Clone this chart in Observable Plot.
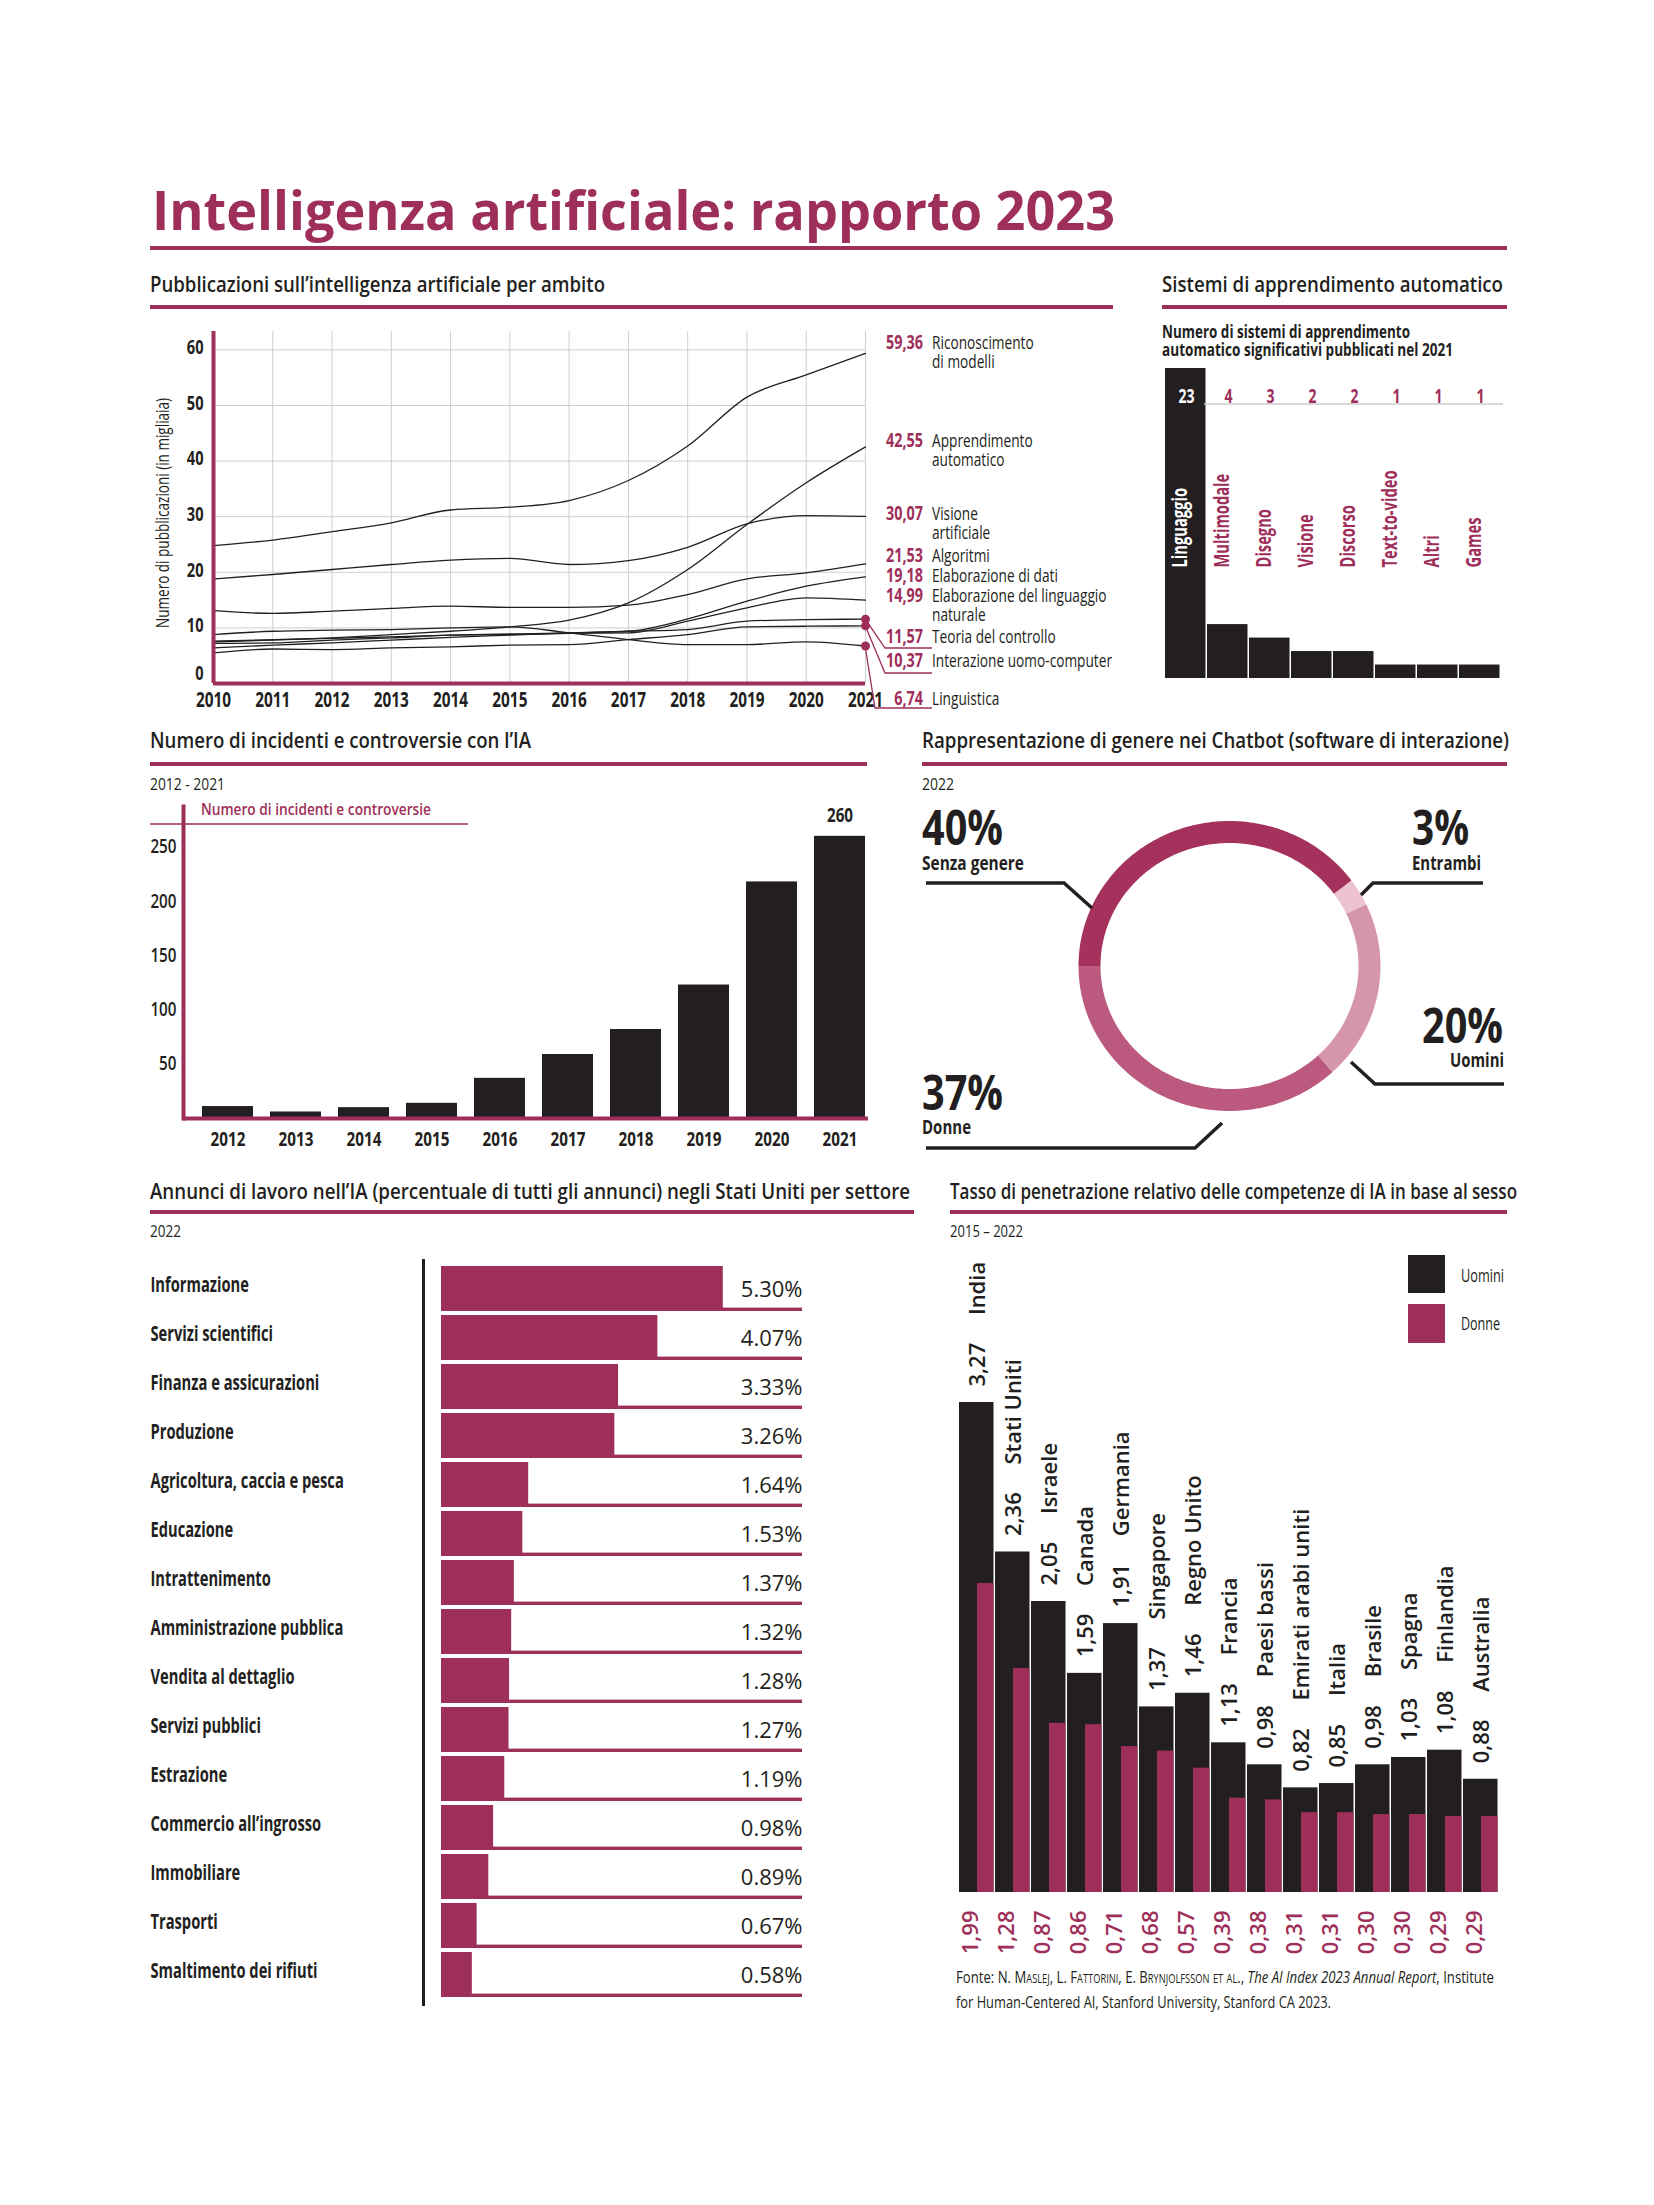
<!DOCTYPE html>
<html><head><meta charset="utf-8">
<script src="https://cdn.jsdelivr.net/npm/d3@7"></script>
<script src="https://cdn.jsdelivr.net/npm/@observablehq/plot@0.6"></script>
<style>
html,body{margin:0;padding:0;background:#fff}
#page{position:relative;width:1654px;height:2205px;overflow:hidden;background:#fff}
#page text{white-space:pre}
</style></head><body>
<div id="page"></div>
<script>
// ================= DATA =================
// 1. Pubblicazioni sull'IA per ambito (migliaia)
const pubYears = [2010, 2011, 2012, 2013, 2014, 2015, 2016, 2017, 2018, 2019, 2020, 2021];
const pubSeries = ["Riconoscimento di modelli", "Apprendimento automatico", "Visione artificiale", "Algoritmi", "Elaborazione di dati", "Elaborazione del linguaggio naturale", "Teoria del controllo", "Interazione uomo-computer", "Linguistica"];
const pubLabelLines = [["Riconoscimento", "di modelli"], ["Apprendimento", "automatico"], ["Visione", "artificiale"], ["Algoritmi"], ["Elaborazione di dati"], ["Elaborazione del linguaggio", "naturale"], ["Teoria del controllo"], ["Interazione uomo-computer"], ["Linguistica"]];
const pubRiconoscimento = [24.8, 25.8, 27.3, 28.9, 31.2, 31.7, 32.9, 36.5, 42.7, 51.5, 55.5, 59.36];
const pubApprendimento  = [7.5, 7.8, 8.2, 8.8, 9.4, 10.2, 11.4, 14.5, 20.5, 28.6, 36.1, 42.55];
const pubVisione        = [18.8, 19.6, 20.5, 21.4, 22.2, 22.5, 21.4, 22.1, 24.5, 28.7, 30.2, 30.07];
const pubAlgoritmi      = [13.1, 12.6, 13.0, 13.5, 13.9, 13.7, 13.7, 14.1, 16.0, 18.8, 19.9, 21.53];
const pubDati           = [7.6, 7.9, 8.1, 8.4, 8.7, 8.9, 9.1, 9.4, 11.6, 14.8, 17.5, 19.18];
const pubLinguaggio     = [7.2, 7.3, 7.8, 8.2, 8.7, 8.8, 9.0, 9.1, 11.2, 13.6, 15.4, 14.99];
const pubControllo      = [6.4, 6.9, 7.3, 7.8, 8.3, 8.7, 9.1, 9.4, 9.7, 11.2, 11.5, 11.57];
const pubInterazione    = [5.5, 6.2, 6.1, 6.4, 6.6, 6.9, 7.0, 7.9, 8.8, 10.2, 10.3, 10.37];
const pubLinguistica    = [8.8, 9.4, 9.6, 9.7, 10.0, 10.2, 9.1, 7.9, 7.0, 7.0, 7.5, 6.74];
const pubDotted = ["Teoria del controllo", "Interazione uomo-computer", "Linguistica"];
const pubYTicks = [0, 10, 20, 30, 40, 50, 60];

// 2. Sistemi di apprendimento automatico 2021
const mlCategories = ["Linguaggio", "Multimodale", "Disegno", "Visione", "Discorso", "Text-to-video", "Altri", "Games"];
const mlCounts = [23, 4, 3, 2, 2, 1, 1, 1];

// 3. Incidenti e controversie
const incYears = [2012, 2013, 2014, 2015, 2016, 2017, 2018, 2019, 2020, 2021];
const incCounts = [11, 6, 10, 14, 37, 59, 82, 123, 218, 260];
const incYTicks = [50, 100, 150, 200, 250];

// 4. Genere nei chatbot
const chatLabels = ["Senza genere", "Entrambi", "Uomini", "Donne"];
const chatPct = [40, 3, 20, 37];
const chatColors = ["#a5315d", "#ecc3cf", "#d596ab", "#bb597e"];

// 5. Annunci di lavoro per settore (%)
const jobSectors = ["Informazione", "Servizi scientifici", "Finanza e assicurazioni", "Produzione", "Agricoltura, caccia e pesca", "Educazione", "Intrattenimento", "Amministrazione pubblica", "Vendita al dettaglio", "Servizi pubblici", "Estrazione", "Commercio all’ingrosso", "Immobiliare", "Trasporti", "Smaltimento dei rifiuti"];
const jobPct = [5.30, 4.07, 3.33, 3.26, 1.64, 1.53, 1.37, 1.32, 1.28, 1.27, 1.19, 0.98, 0.89, 0.67, 0.58];

// 6. Penetrazione competenze IA per sesso
const genCountries = ["India", "Stati Uniti", "Israele", "Canada", "Germania", "Singapore", "Regno Unito", "Francia", "Paesi bassi", "Emirati arabi uniti", "Italia", "Brasile", "Spagna", "Finlandia", "Australia"];
const genMen   = [3.27, 2.36, 2.05, 1.59, 1.91, 1.37, 1.46, 1.13, 0.98, 0.82, 0.85, 0.98, 1.03, 1.08, 0.88];
const genWomen = [1.99, 1.28, 0.87, 0.86, 0.71, 0.68, 0.57, 0.39, 0.38, 0.31, 0.31, 0.30, 0.30, 0.29, 0.29];

// ================= STYLE =================
const CRIMSON = "#9e2f5a", INK = "#231f20", GRID = "#cfcfcf";
const FONT = "'Open Sans', 'Noto Sans', sans-serif";
const itNum = v => v.toFixed(2).replace(".", ",");
const page = document.getElementById("page");
const baseStyle = {fontFamily: FONT, background: "transparent", overflow: "visible"};

function place(svg, left, top) {
  svg.style.position = "absolute";
  svg.style.left = left + "px";
  svg.style.top = top + "px";
  svg.style.maxWidth = "none";
  svg.style.background = "transparent";
  page.appendChild(svg);
  return svg;
}
function condense(nodes, f) {
  nodes.forEach(t => {
    const L = t.getComputedTextLength();
    if (L > 0) { t.setAttribute("textLength", (L * f).toFixed(1)); t.setAttribute("lengthAdjust", "spacingAndGlyphs"); }
  });
}

// ================= CHART 1: linee =================
const pubValues = [pubRiconoscimento, pubApprendimento, pubVisione, pubAlgoritmi, pubDati, pubLinguaggio, pubControllo, pubInterazione, pubLinguistica];
const pubTable = pubSeries.flatMap((s, i) => pubYears.map((yr, j) => ({series: s, year: yr, value: pubValues[i][j]})));
const L1 = {left: 140, top: 320};
const chartL = Plot.plot({
  width: 740, height: 410, marginLeft: 73, marginRight: 15, marginTop: 11, marginBottom: 47,
  x: {domain: [2010, 2021]}, y: {domain: [0, 63.3]},
  style: baseStyle,
  marks: [
    Plot.gridX(pubYears, {stroke: GRID, strokeOpacity: 1, strokeWidth: 1}),
    Plot.gridY(pubYTicks.slice(1), {stroke: GRID, strokeOpacity: 1, strokeWidth: 1}),
    Plot.lineY(pubTable, {x: "year", y: "value", z: "series", stroke: INK, strokeWidth: 1.3, curve: "monotone-x"}),
    Plot.ruleX([2010], {stroke: CRIMSON, strokeWidth: 4}),
    Plot.ruleY([0], {stroke: CRIMSON, strokeWidth: 4}),
    Plot.dot(pubTable.filter(d => d.year === 2021 && pubDotted.includes(d.series)), {x: "year", y: "value", r: 4.5, fill: CRIMSON}),
    Plot.axisY({ticks: pubYTicks.slice(1), tickSize: 0, tickPadding: 10, dy: -2, fontSize: 20, fontWeight: 700, fill: INK, label: null}),
    Plot.axisY({ticks: pubYTicks.slice(0, 1), tickSize: 0, tickPadding: 10, dy: -10, fontSize: 20, fontWeight: 700, fill: INK, label: null}),
    Plot.axisX({ticks: pubYears, tickFormat: d => String(d), tickSize: 0, tickPadding: 9, fontSize: 21, fontWeight: 700, fill: INK, label: null})
  ]
});
place(chartL, L1.left, L1.top);

// ================= CHART 2: sistemi ML =================
const mlTable = mlCategories.map((c, i) => ({cat: c, n: mlCounts[i]}));
const chartM = Plot.plot({
  width: 370, height: 330, marginLeft: 12, marginRight: 17, marginTop: 8, marginBottom: 12,
  x: {domain: mlCategories, padding: 0, axis: null}, y: {domain: [0, 23], axis: null},
  style: baseStyle,
  marks: [
    Plot.barY(mlTable, {x: "cat", y: "n", fill: INK, insetRight: 1.5}),
    Plot.text(mlTable.slice(0, 1), {x: "cat", text: d => String(d.n), frameAnchor: "top", dy: 20, fill: "white", fontSize: 20, fontWeight: 700}),
    Plot.text(mlTable.slice(1), {x: "cat", text: d => String(d.n), frameAnchor: "top", dy: 20, fill: CRIMSON, fontSize: 20, fontWeight: 700}),
    Plot.text(mlTable.slice(0, 1), {x: "cat", text: "cat", frameAnchor: "bottom", dy: -111, rotate: -90, textAnchor: "start", fill: "white", fontSize: 21, fontWeight: 700}),
    Plot.text(mlTable.slice(1), {x: "cat", text: "cat", frameAnchor: "bottom", dy: -111, rotate: -90, textAnchor: "start", fill: CRIMSON, fontSize: 21, fontWeight: 700})
  ]
});
place(chartM, 1150, 360);

// ================= CHART 3: incidenti =================
const incTable = incYears.map((y, i) => ({year: y, n: incCounts[i]}));
const chartI = Plot.plot({
  width: 745, height: 380, marginLeft: 43, marginRight: 17, marginTop: 16, marginBottom: 52,
  x: {domain: incYears, paddingInner: 0.25, paddingOuter: 0, insetLeft: 18.5, insetRight: 2.5},
  y: {domain: [0, 287.5]},
  style: baseStyle,
  marks: [
    Plot.barY(incTable, {x: "year", y: "n", fill: INK}),
    Plot.ruleY([0], {stroke: CRIMSON, strokeWidth: 4}),
    Plot.frame({anchor: "left", stroke: CRIMSON, strokeWidth: 4}),
    Plot.text(incTable.slice(-1), {x: "year", y: "n", text: d => String(d.n), dy: -20, fontSize: 19, fontWeight: 700, fill: INK}),
    Plot.axisY({ticks: incYTicks, tickSize: 0, tickPadding: 7, fontSize: 19, fontWeight: 600, fill: INK, label: null}),
    Plot.axisX({tickFormat: d => String(d), tickSize: 0, tickPadding: 14, fontSize: 19, fontWeight: 700, fill: INK, label: null})
  ]
});
place(chartI, 140, 790);

// ================= CHART 4: ciambella =================
const chatTable = chatLabels.map((l, i) => ({label: l, pct: chatPct[i]}));
const pie = d3.pie().value(d => d.pct).sort(null).startAngle(-Math.PI / 2).endAngle(3 * Math.PI / 2);
const ringPts = pie(chatTable).flatMap(a => {
  const n = Math.max(6, Math.ceil((a.endAngle - a.startAngle) / (Math.PI / 180)));
  return d3.range(n + 1).map(k => {
    const t = a.startAngle + (a.endAngle - a.startAngle) * k / n;
    return {label: a.data.label, x: Math.sin(t), y: Math.cos(t)};
  });
});
const chartD = Plot.plot({
  width: 310, height: 310, marginLeft: 19, marginRight: 11, marginTop: 21.5, marginBottom: 20.5,
  x: {domain: [-1, 1], axis: null}, y: {domain: [-1, 1], axis: null},
  color: {domain: chatLabels, range: chatColors},
  style: baseStyle,
  marks: [
    Plot.line(ringPts, {x: "x", y: "y", z: "label", stroke: "label", strokeWidth: 22, strokeLinecap: "butt", curve: "linear"})
  ]
});
place(chartD, 1070, 810);

// ================= CHART 5: annunci di lavoro =================
const jobTable = jobSectors.map((s, i) => ({sector: s, pct: jobPct[i]}));
const jobMax = 6.79;
const chartJ = Plot.plot({
  width: 680, height: 760, marginLeft: 283, marginRight: 18, marginTop: 10, marginBottom: 6,
  x: {domain: [0, jobMax], insetLeft: 18, axis: null},
  y: {domain: jobSectors, paddingInner: 0.08, paddingOuter: 0.04, axis: null},
  style: baseStyle,
  marks: [
    Plot.barX(jobTable, {y: "sector", x: "pct", fill: CRIMSON}),
    Plot.barX(jobTable, {y: "sector", x1: 0, x2: jobMax, fill: CRIMSON, insetTop: 41.6}),
    Plot.frame({anchor: "left", stroke: INK, strokeWidth: 3}),
    Plot.text(jobTable, {y: "sector", text: "sector", frameAnchor: "left", dx: -273, dy: -4, textAnchor: "start", fontSize: 21, fontWeight: 700, fill: INK}),
    Plot.text(jobTable, {y: "sector", text: d => d.pct.toFixed(2) + "%", frameAnchor: "right", dy: 1, textAnchor: "end", fontSize: 22, fontWeight: 500, fill: INK})
  ]
});
place(chartJ, 140, 1250);

// ================= CHART 6: penetrazione per sesso =================
const genTable = genCountries.map((c, i) => ({country: c, men: genMen[i], women: genWomen[i]}));
const chartG1 = Plot.plot({
  width: 580, height: 740, marginLeft: 17, marginRight: 20, marginTop: 162, marginBottom: 88,
  x: {domain: genCountries, padding: 0, axis: null},
  y: {type: "pow", exponent: 1.116, domain: [0, 3.27], axis: null},
  style: baseStyle,
  marks: [
    Plot.barY(genTable, {x: "country", y: "men", fill: INK, insetRight: 1.5}),
    Plot.text(genTable, {x: "country", y: "men", text: d => itNum(d.men) + "\u2003\u00a0" + d.country, rotate: -90, textAnchor: "start", dy: -16, fontSize: 22, fontWeight: 600, fill: INK})
  ]
});
place(chartG1, 940, 1240);
const chartG2 = Plot.plot({
  width: 580, height: 740, marginLeft: 17, marginRight: 20, marginTop: 343, marginBottom: 88,
  x: {domain: genCountries, padding: 0, axis: null},
  y: {type: "pow", exponent: 0.728, domain: [0, 1.99], axis: null},
  style: baseStyle,
  marks: [
    Plot.barY(genTable, {x: "country", y: "women", fill: CRIMSON, insetLeft: 18, insetRight: 1.5}),
    Plot.text(genTable, {x: "country", text: d => itNum(d.women), frameAnchor: "bottom", dy: 18, rotate: -90, textAnchor: "end", fontSize: 22, fontWeight: 600, fill: CRIMSON})
  ]
});
place(chartG2, 940, 1240);

// ================= OVERLAY: titoli, etichette, legende =================
const ov = d3.create("svg").attr("width", 1654).attr("height", 2205)
  .style("position", "absolute").style("left", "0px").style("top", "0px").style("overflow", "visible");
const condList = [];
function T(x, y, str, o = {}) {
  const t = ov.append("text").attr("x", x).attr("y", y)
    .attr("font-family", FONT).attr("font-size", o.size || 18)
    .attr("font-weight", o.w || 400).attr("fill", o.fill || INK)
    .attr("text-anchor", o.anchor || "start");
  if (o.rot) t.attr("transform", `rotate(${o.rot} ${x} ${y})`);
  if (o.parts) {
    o.parts.forEach(p => {
      const s = t.append("tspan").text(p.t);
      if (p.sc) s.attr("font-variant", "small-caps");
      if (p.it) s.attr("font-style", "italic");
    });
  } else t.text(str);
  if (o.len) t.attr("textLength", o.len).attr("lengthAdjust", "spacingAndGlyphs");
  if (o.c) condList.push([t.node(), o.c]);
  return t;
}
function Rule(x1, y, x2, h, fill) {
  ov.append("rect").attr("x", x1).attr("y", y - h / 2).attr("width", x2 - x1).attr("height", h).attr("fill", fill || CRIMSON);
}
function Poly(points, w, stroke) {
  ov.append("polyline").attr("points", points.map(p => p.join(",")).join(" "))
    .attr("fill", "none").attr("stroke", stroke || INK).attr("stroke-width", w).attr("stroke-linejoin", "miter");
}

// Title
T(152, 230, "Intelligenza artificiale: rapporto 2023", {size: 53, w: 700, fill: CRIMSON, len: 963});
Rule(150, 248, 1507, 4);

// Section 1
T(150, 292, "Pubblicazioni sull’intelligenza artificiale per ambito", {size: 22, w: 600, len: 455});
Rule(150, 307, 1113, 4);
T(169, 513, "Numero di pubblicazioni (in migliaia)", {size: 19, w: 500, anchor: "middle", rot: -90, len: 230});

// right labels of line chart
const pubLabelBase = [349, 447, 520, 562, 582, 602, 643, 667, 705];
const pubOrder = pubSeries.map((s, i) => ({s, i, v: pubValues[i][pubValues[i].length - 1]}));
pubOrder.forEach((d, k) => {
  const yb = pubLabelBase[k];
  T(923, yb, itNum(d.v), {size: 20, w: 700, fill: CRIMSON, anchor: "end", c: 0.72});
  pubLabelLines[d.i].forEach((line, j) => T(932, yb + 19 * j, line, {size: 19, w: 500, c: 0.72}));
});
// connectors for dotted series
const sx = chartL.scale("x"), sy = chartL.scale("y");
const connectorEnds = {"Teoria del controllo": [885, 648], "Interazione uomo-computer": [885, 673], "Linguistica": [875, 708]};
pubDotted.forEach(name => {
  const i = pubSeries.indexOf(name);
  const v = pubValues[i][pubValues[i].length - 1];
  const x0 = L1.left + sx.apply(2021), y0 = L1.top + sy.apply(v);
  const [xe, ye] = connectorEnds[name];
  Poly([[x0, y0], [xe, ye], [932, ye]], 1.3, CRIMSON);
});

// Section 2
T(1162, 292, "Sistemi di apprendimento automatico", {size: 22, w: 600, len: 341});
Rule(1162, 307, 1507, 4);
T(1162, 338, "Numero di sistemi di apprendimento", {size: 17, w: 700, len: 248});
T(1162, 356, "automatico significativi pubblicati nel 2021", {size: 17, w: 700, len: 291});
Rule(1204, 404, 1503, 1.5, "#cccccc");

// Section 3
T(150, 748, "Numero di incidenti e controversie con l’IA", {size: 22, w: 600, len: 381});
Rule(150, 764, 867, 4);
T(150, 790, "2012 - 2021", {size: 17, w: 400, len: 75});
T(201, 815, "Numero di incidenti e controversie", {size: 17, w: 600, fill: CRIMSON, len: 230});
Rule(150, 824, 468, 1.5);

// Section 4
T(922, 748, "Rappresentazione di genere nei Chatbot (software di interazione)", {size: 22, w: 600, len: 587});
Rule(922, 764, 1507, 4);
T(922, 790, "2022", {size: 17, w: 400, len: 32});
const chatLabelPos = [
  {px: 922, py: 845, pl: 81, nx: 922, ny: 870, nl: 102, lead: [[926, 883], [1064, 883], [1092, 908]]},
  {px: 1412, py: 845, pl: 57, nx: 1412, ny: 870, nl: 69, lead: [[1483, 883], [1373, 883], [1361, 895]]},
  {px: 1422, py: 1043, pl: 81, nx: 1450, ny: 1067, nl: 54, lead: [[1504, 1084], [1375, 1084], [1351, 1062]]},
  {px: 922, py: 1110, pl: 81, nx: 922, ny: 1134, nl: 49, lead: [[926, 1148], [1195, 1148], [1222, 1123]]}
];
chatLabels.forEach((l, i) => {
  const p = chatLabelPos[i];
  T(p.px, p.py, chatPct[i] + "%", {size: 48, w: 700, len: p.pl});
  T(p.nx, p.ny, l, {size: 20, w: 700, len: p.nl});
  Poly(p.lead, 3.5, INK);
});

// Section 5
T(150, 1199, "Annunci di lavoro nell’IA (percentuale di tutti gli annunci) negli Stati Uniti per settore", {size: 22, w: 600, len: 760});
Rule(150, 1212, 914, 4);
T(150, 1237, "2022", {size: 17, w: 400, len: 31});

// Section 6
T(950, 1199, "Tasso di penetrazione relativo delle competenze di IA in base al sesso", {size: 22, w: 600, len: 567});
Rule(950, 1212, 1507, 4);
T(950, 1237, "2015 – 2022", {size: 17, w: 400, len: 73});
ov.append("rect").attr("x", 1408).attr("y", 1255).attr("width", 37).attr("height", 38).attr("fill", INK);
ov.append("rect").attr("x", 1408).attr("y", 1304).attr("width", 37).attr("height", 39).attr("fill", CRIMSON);
T(1461, 1282, "Uomini", {size: 18, w: 400, len: 43});
T(1461, 1330, "Donne", {size: 18, w: 400, len: 39});

// Source
T(956, 1983, null, {size: 17, w: 400, len: 538, parts: [
  {t: "Fonte: N. "}, {t: "Maslej", sc: true}, {t: ", L. "}, {t: "Fattorini", sc: true}, {t: ", E. "},
  {t: "Brynjolfsson et al.", sc: true}, {t: ", "}, {t: "The AI Index 2023 Annual Report", it: true}, {t: ", Institute"}]});
T(956, 2008, "for Human-Centered AI, Stanford University, Stanford CA 2023.", {size: 17, w: 400, len: 375});

page.appendChild(ov.node());

// ================= condensed lettering =================
condense(chartL.querySelectorAll("text"), 0.73);
condense(chartI.querySelectorAll("text"), 0.8);
condense(chartM.querySelectorAll("text"), 0.7);
condense(Array.from(chartJ.querySelectorAll("text")).filter(t => jobSectors.includes(t.textContent)), 0.7);
condList.forEach(([n, f]) => condense([n], f));
</script>
</body></html>
